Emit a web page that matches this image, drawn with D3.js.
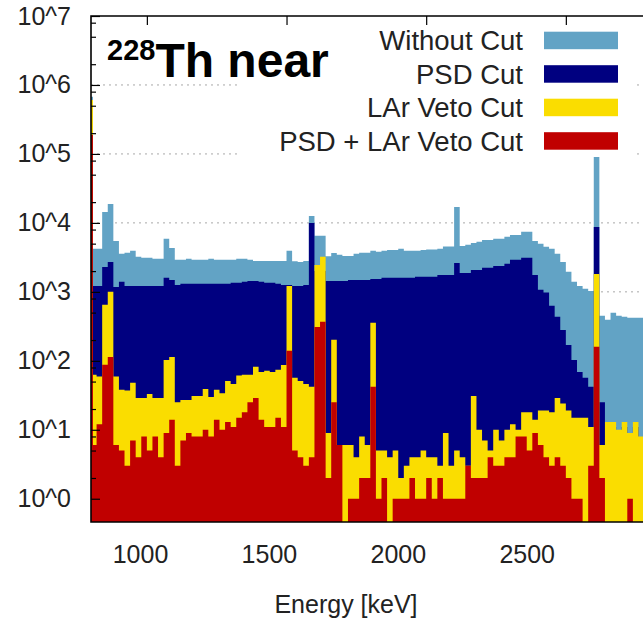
<!DOCTYPE html>
<html lang="en">
<head>
<meta charset="UTF-8">
<title>228Th near</title>
<style>
  body { margin: 0; background: #fff; }
  svg { display: block; font-family: "Liberation Sans", Arial, sans-serif; }
</style>
<script src="https://d3js.org/d3.v7.min.js"></script>
</head>
<body>
<svg id="chart" width="643" height="622"></svg>
<script>
// histogram bins: a narrow first bin at the left edge, then 20 keV bins
const binEdges = [800, 807].concat(d3.range(820, 2820, 20));

const withoutCut = [677000,
  4200, 4200, 14430, 18840, 5480, 3560, 3680, 3930, 3220, 3110,
  3110, 3010, 3010, 5870, 4340, 2910, 2910, 3010, 2910, 2910,
  2910, 3010, 2910, 2910, 2910, 2910, 3010, 3010, 2910, 2810,
  2810, 2810, 2810, 2810, 2810, 3930, 2780, 2720, 2810, 12630,
  6490, 6490, 3270, 3650, 3440, 3320, 3320, 3560, 3680, 3680,
  3930, 3800, 3930, 4060, 4060, 4200, 3930, 3930, 3930, 4060,
  4130, 4130, 4200, 4560, 4560, 17060, 4640, 4800, 5130, 5310,
  5670, 5670, 5870, 5870, 6270, 6700, 6700, 7410, 7410, 5480,
  4970, 4490, 4200, 3560, 2720, 1950, 1400, 1220, 1110, 1030,
  96800, 449, 393, 497, 449, 434, 420, 420, 420];

const psdCut = [500000,
  1220, 1220, 2300, 2720, 1180, 1400, 1220, 1220, 1220, 1220,
  1220, 1220, 1220, 1600, 1490, 1260, 1310, 1310, 1310, 1310,
  1310, 1310, 1310, 1310, 1310, 1350, 1350, 1400, 1440, 1440,
  1400, 1350, 1350, 1310, 1260, 1260, 1220, 1220, 1260, 10000,
  2000, 2000, 1440, 1440, 1440, 1440, 1490, 1490, 1490, 1490,
  1540, 1540, 1600, 1600, 1600, 1600, 1600, 1600, 1650, 1650,
  1650, 1650, 1760, 1760, 1760, 2630, 1880, 1880, 2080, 2080,
  2230, 2230, 2380, 2380, 2550, 2910, 2910, 3110, 3110, 1760,
  1070, 980, 630, 434, 280, 170, 103, 69, 57, 42,
  8750, 25, 13, 11, 9, 11, 8, 11, 7];

const larVetoCut = [605000,
  63, 59, 648, 1000, 59, 38, 37, 48, 29, 29,
  33, 29, 29, 103, 114, 25, 27, 27, 31, 31,
  39, 30, 38, 34, 51, 46, 61, 63, 63, 82,
  69, 72, 69, 74, 87, 1220, 57, 51, 46, 42,
  2460, 3220, 9, 202, 6, 6, 6, 4, 8, 6,
  356, 5, 5, 4, 5, 2, 3, 4, 4, 5,
  4, 4, 3, 9, 3, 5, 4, 3, 31, 10,
  7, 5, 10, 7, 10, 12, 10, 18, 18, 14,
  19, 19, 18, 29, 24, 19, 15, 15, 15, 11,
  1820, 6, 13, 13, 10, 13, 9, 13, 8];

const psdLarCut = [188000,
  6, 12, 88, 114, 6, 5, 3, 7, 4, 8,
  5, 8, 4, 9, 14, 3, 7, 9, 8, 8,
  10, 8, 14, 10, 13, 11, 15, 18, 25, 29,
  14, 11, 11, 15, 11, 140, 5, 4, 3, 4,
  310, 370, 2, 25, 6, 0, 1, 1, 2, 2,
  42, 1, 2, 0, 1, 1, 1, 2, 1, 1,
  2, 1, 2, 1, 1, 1, 1, 3, 2, 2,
  2, 4, 3, 3, 4, 4, 8, 8, 5, 9,
  6, 4, 3, 4, 3, 2, 1, 1, 0, 3,
  160, 2, 0, 0, 0, 0, 1, 0, 0];

const seriesNames = ["Without Cut", "PSD Cut", "LAr Veto Cut", "PSD + LAr Veto Cut"];
const seriesColors = ["#62a3c5", "#000080", "#fadd00", "#c00000"];
const seriesData = [withoutCut, psdCut, larVetoCut, psdLarCut];

const yMajorTicks = [1, 10, 100, 1e3, 1e4, 1e5, 1e6, 1e7];
const yMinorFactors = [2, 5, 8];
const xTicks = [1000, 1500, 2000, 2500];

const svg = d3.select("#chart");
const W = 643;

const x = d3.scaleLinear().domain([800, 3000]).range([91, 705.5]);
// the printed energy labels below the frame sit on their own, slightly tighter scale
const xLabel = d3.scaleLinear().domain([1000, 2500]).range([140, 526.7]);
const y = d3.scaleLog().domain([0.46, 1e7]).range([522, 16]);
const yMin = y.domain()[0];

svg.append("rect").attr("width", W).attr("height", 622).attr("fill", "#fff");

svg.append("defs").append("clipPath").attr("id", "plotClip")
  .append("rect")
  .attr("x", x.range()[0]).attr("y", y.range()[1])
  .attr("width", W - x.range()[0]).attr("height", y.range()[0] - y.range()[1]);

// dotted grid at the decades
svg.append("g")
  .selectAll("line")
  .data(yMajorTicks.slice(0, -1))
  .join("line")
  .attr("x1", x.range()[0]).attr("x2", W)
  .attr("y1", d => y(d)).attr("y2", d => y(d))
  .attr("stroke", "#a8a8a8")
  .attr("stroke-width", 1)
  .attr("stroke-dasharray", "2,4");

// histograms, each drawn from the bottom over the previous one
const area = d3.area()
  .curve(d3.curveStepAfter)
  .x(d => x(d.e))
  .y0(y.range()[0])
  .y1(d => y(Math.max(d.v, yMin)));

const bars = svg.append("g").attr("clip-path", "url(#plotClip)");
seriesData.forEach((vals, s) => {
  const pts = vals.map((v, i) => ({ e: binEdges[i], v: v }));
  pts.push({ e: binEdges[vals.length], v: vals[vals.length - 1] });
  bars.append("path")
    .datum(pts)
    .attr("d", area)
    .attr("fill", seriesColors[s]);
});

// key box (opaque)
const keyX = 238, keyY = 17, keyW = 395, keyH = 140;
svg.append("rect")
  .attr("x", keyX).attr("y", keyY).attr("width", keyW).attr("height", keyH)
  .attr("fill", "#fff");

const rowY = d3.scaleLinear().domain([0, 3]).range([40.5, 141]);
const key = svg.append("g");
seriesNames.forEach((name, i) => {
  key.append("text")
    .attr("x", 523).attr("y", rowY(i)).attr("dy", "0.36em")
    .attr("text-anchor", "end")
    .attr("font-size", 27.5)
    .attr("fill", "#222")
    .text(name);
  key.append("rect")
    .attr("x", 544).attr("y", rowY(i) - 8.8)
    .attr("width", 74).attr("height", 17.5)
    .attr("fill", seriesColors[i]);
});

// title
const title = svg.append("text")
  .attr("font-weight", "bold")
  .attr("fill", "#000");
title.append("tspan").attr("x", 107).attr("y", 60).attr("font-size", 29).text("228");
title.append("tspan").attr("y", 77).attr("font-size", 48).text("Th near");

// y axis: inward ticks + labels
svg.append("g")
  .attr("transform", `translate(${x.range()[0]},0)`)
  .call(d3.axisRight(y).tickValues(yMajorTicks).tickSize(9).tickFormat(""))
  .call(g => g.select(".domain").remove())
  .call(g => g.selectAll("line").attr("stroke", "#000").attr("stroke-width", 1.2));

const minorVals = [];
yMajorTicks.slice(0, -1).forEach(t => yMinorFactors.forEach(f => minorVals.push(t * f)));
svg.append("g")
  .attr("transform", `translate(${x.range()[0]},0)`)
  .call(d3.axisRight(y).tickValues(minorVals).tickSize(5).tickFormat(""))
  .call(g => g.select(".domain").remove())
  .call(g => g.selectAll("line").attr("stroke", "#000").attr("stroke-width", 1.2));

svg.append("g")
  .attr("transform", `translate(${x.range()[0]},0)`)
  .call(d3.axisLeft(y).tickValues(yMajorTicks).tickSize(0).tickPadding(20)
    .tickFormat(d => "10^" + Math.round(Math.log10(d))))
  .call(g => g.select(".domain").remove())
  .call(g => g.selectAll("text")
    .attr("font-size", 25)
    .attr("font-family", "'Liberation Sans', Arial, sans-serif")
    .attr("fill", "#222"));

// top mirror ticks
svg.append("g")
  .attr("transform", `translate(0,${y.range()[1]})`)
  .call(d3.axisBottom(x).tickValues(xTicks).tickSize(9).tickFormat(""))
  .call(g => g.select(".domain").remove())
  .call(g => g.selectAll("line").attr("stroke", "#000").attr("stroke-width", 1.2));

// bottom labels
svg.append("g")
  .attr("transform", `translate(0,${y.range()[0]})`)
  .call(d3.axisBottom(xLabel).tickValues(xTicks).tickSize(0).tickPadding(23).tickFormat(d3.format("d")))
  .call(g => g.select(".domain").remove())
  .call(g => g.selectAll("text")
    .attr("font-size", 25)
    .attr("font-family", "'Liberation Sans', Arial, sans-serif")
    .attr("fill", "#222"));

// frame
svg.append("path")
  .attr("d", `M${W + 2},${y.range()[1]}H${x.range()[0]}V${y.range()[0]}H${W + 2}`)
  .attr("fill", "none")
  .attr("stroke", "#000")
  .attr("stroke-width", 1.6);

svg.append("text")
  .attr("x", 346).attr("y", 613)
  .attr("text-anchor", "middle")
  .attr("font-size", 25)
  .attr("fill", "#222")
  .text("Energy [keV]");
</script>
</body>
</html>
